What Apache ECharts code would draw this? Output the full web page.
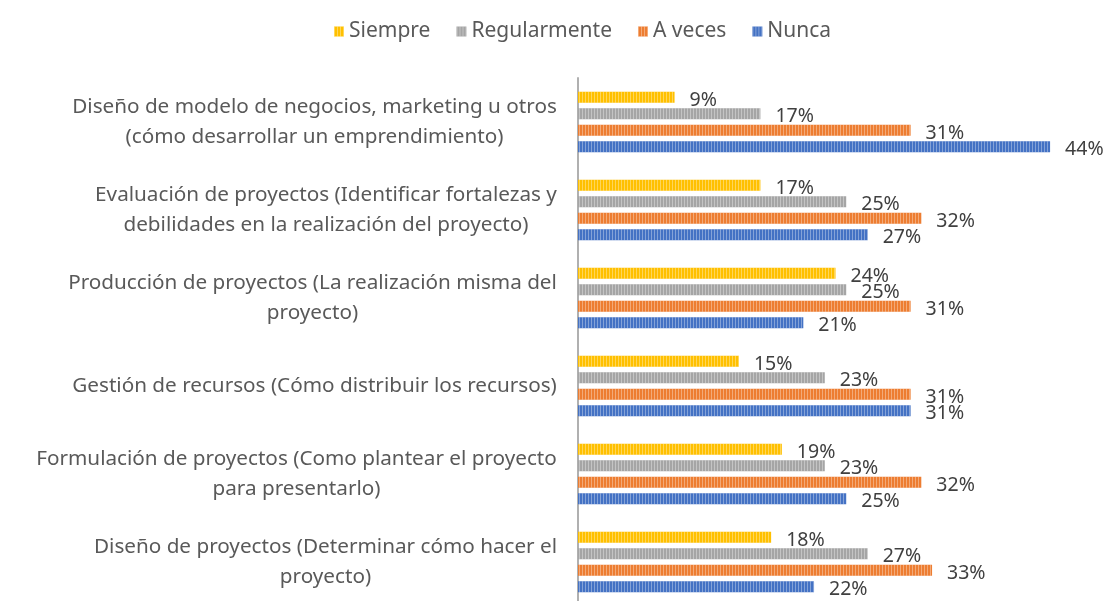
<!DOCTYPE html>
<html><head><meta charset="utf-8">
<script src="https://cdn.jsdelivr.net/npm/echarts@6/dist/echarts.min.js"></script>
<style>html,body{margin:0;padding:0;background:#fff}#c{width:1112px;height:601px}</style>
</head><body><div id="c"></div>
<script>
const categories = [
  "Diseño de modelo de negocios, marketing u otros\n(cómo desarrollar un emprendimiento)",
  "Evaluación de proyectos (Identificar fortalezas y\ndebilidades en la realización del proyecto)",
  "Producción de proyectos (La realización misma del\nproyecto)",
  "Gestión de recursos (Cómo distribuir los recursos)",
  "Formulación de proyectos (Como plantear el proyecto\npara presentarlo)",
  "Diseño de proyectos (Determinar cómo hacer el\nproyecto)"
];
const seriesNames = ["Siempre", "Regularmente", "A veces", "Nunca"];
const siempre      = [9, 17, 24, 15, 19, 18];
const regularmente = [17, 25, 25, 23, 23, 27];
const aVeces       = [31, 32, 31, 31, 32, 33];
const nunca        = [44, 27, 21, 31, 25, 22];
const colors = ["#FFC000", "#A5A5A5", "#ED7D31", "#4472C4"];

const FONT = '"Noto Sans", sans-serif';
const CAT_SIZE = 20.7;
const ctx = document.createElement('canvas').getContext('2d');
ctx.font = CAT_SIZE + 'px ' + FONT;
const lineW = v => Math.round(Math.max(...v.split('\n').map(l => ctx.measureText(l).width)));

const decal = {symbol: 'rect', symbolSize: 1, color: 'rgba(255,255,255,0.35)', dashArrayX: [1, 2], dashArrayY: [4, 0]};
const allData = [siempre, regularmente, aVeces, nunca];
const chart = echarts.init(document.getElementById('c'));
const rich = {};
categories.forEach(v => {
  const w = lineW(v);
  rich['c' + w] = {width: w, align: 'center', fontFamily: FONT, fontSize: CAT_SIZE, color: '#595959', lineHeight: 30};
});
chart.setOption({
  backgroundColor: '#fff',
  animation: false,
  legend: {
    data: seriesNames, left: 329, top: 16, icon: 'rect', itemWidth: 10, itemHeight: 10, itemGap: 26,
    textStyle: {fontFamily: FONT, fontSize: 21, color: '#595959'}
  },
  grid: {left: 578, right: 19, top: 78, bottom: -5, outerBoundsMode: 'none'},
  xAxis: {type: 'value', min: 0, max: 48, show: false},
  yAxis: {
    type: 'category', data: categories, inverse: true,
    axisLine: {show: true, lineStyle: {color: '#B0B0B0', width: 2}},
    axisTick: {show: false},
    axisLabel: {
      margin: 21,
      formatter: v => { const w = lineW(v); return v.split('\n').map(l => '{c' + w + '|' + l + '}').join('\n'); },
      rich: rich
    }
  },
  series: seriesNames.map((n, i) => ({
    name: n, type: 'bar', data: allData[i], barWidth: 11, barGap: '50%',
    itemStyle: {color: colors[i], decal: decal},
    label: {show: true, position: 'right', distance: 15, offset: [0, 3], formatter: '{c}%',
      fontFamily: FONT, fontSize: 19.5, color: '#404040'}
  }))
});
</script></body></html>
